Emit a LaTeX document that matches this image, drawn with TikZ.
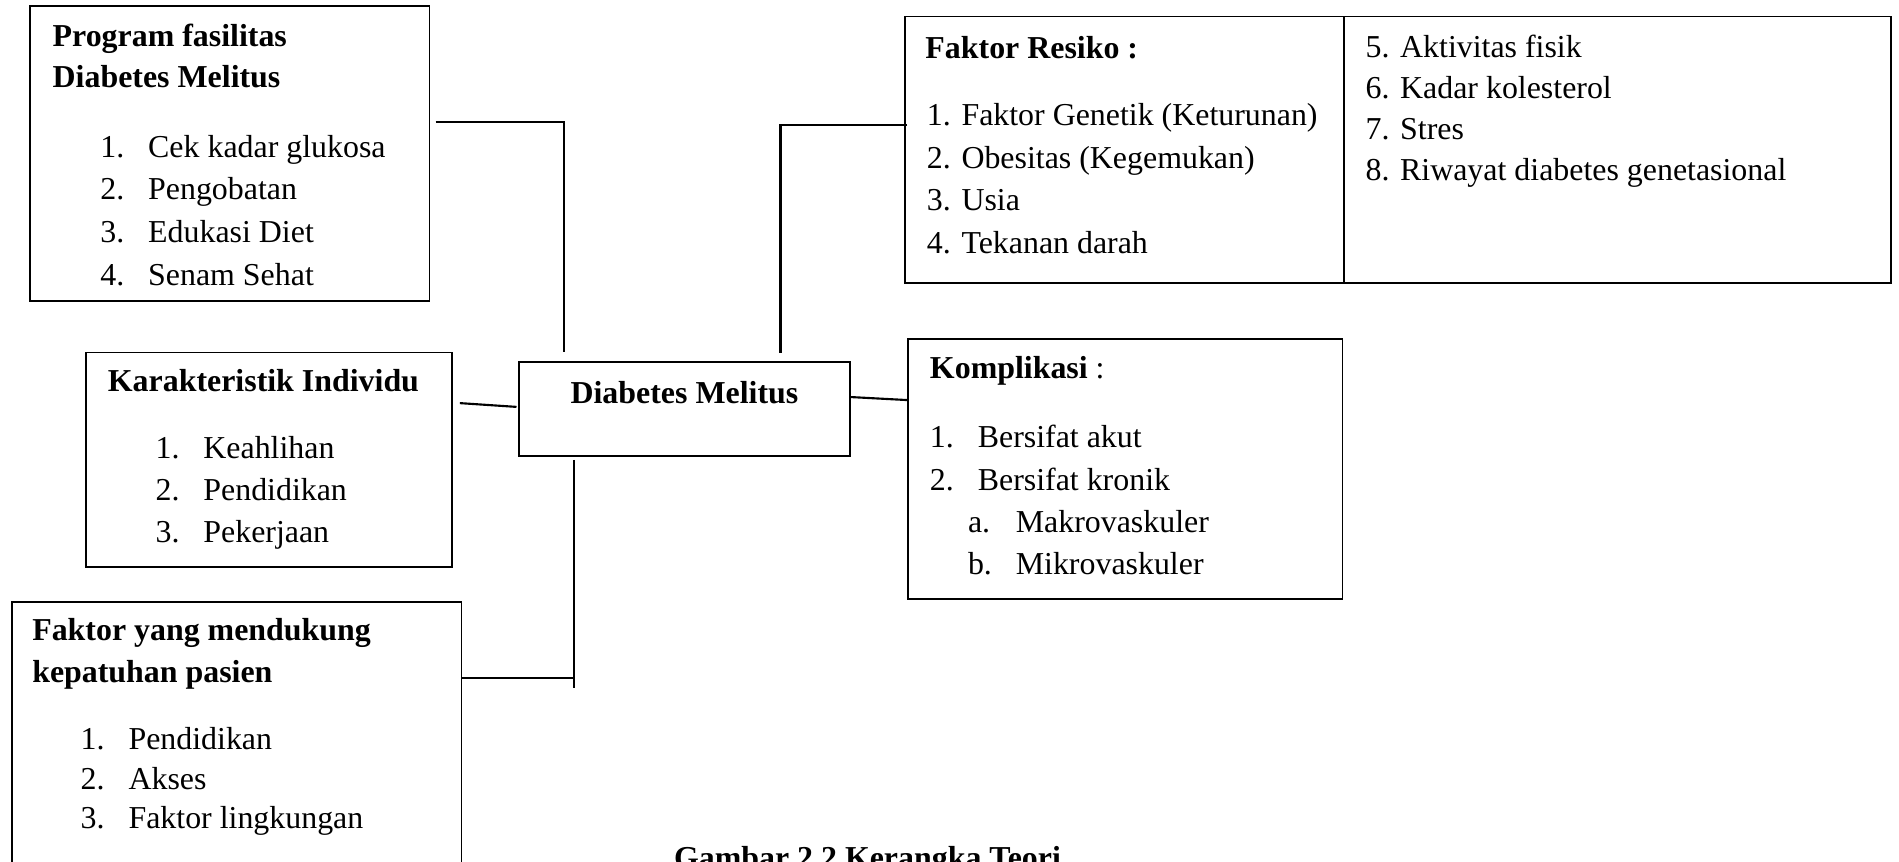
\documentclass[tikz,border=0pt]{standalone}
\usepackage{fontspec}
\setmainfont{Liberation Serif}
\newcommand{\butir}[2]{\makebox[18pt][l]{#1}#2}

\begin{document}
\begin{tikzpicture}[font=\fontsize{12pt}{15pt}\selectfont,
        kotak/.style={rectangle, draw, line width=0.6pt, inner sep=0pt},
        judul/.style={anchor=base west, inner sep=0pt, align=left},
        isi/.style={anchor=base west, inner sep=0pt, align=left},
        garis/.style={line width=0.8pt}]
    \useasboundingbox (0,0) rectangle (25.11,-11.39);

    % kotak-kotak
    \node[kotak, minimum width=5.28cm, minimum height=3.90cm] (prog) at (3.04,-2.03) {};
    \node[kotak, minimum width=4.84cm, minimum height=2.84cm] (indiv) at (3.56,-6.08) {};
    \node[kotak, minimum width=5.94cm, minimum height=3.94cm] (dukung) at (3.13,-9.93) {};
    \node[kotak, minimum width=4.38cm, minimum height=1.24cm] (dm) at (9.05,-5.41) {};
    \node[kotak, minimum width=5.81cm, minimum height=3.52cm] (resikoA) at (14.87,-1.98) {};
    \node[kotak, minimum width=7.23cm, minimum height=3.52cm] (resikoB) at (21.39,-1.98) {};
    \node[kotak, minimum width=5.74cm, minimum height=3.44cm] (kompl) at (14.88,-6.20) {};

    % isi kotak (base = baris terakhir)
    \node[judul, font=\fontsize{12pt}{15.4pt}\selectfont\bfseries] (proghead) at (0.69,-1.16)
        {Program fasilitas\\Diabetes Melitus};
    \node[isi, font=\fontsize{12pt}{16.05pt}\selectfont] (proglist) at (1.32,-3.77)
        {\butir{1.}{Cek kadar glukosa}\\\butir{2.}{Pengobatan}\\\butir{3.}{Edukasi Diet}\\\butir{4.}{Senam Sehat}};

    \node[judul, font=\fontsize{12pt}{15pt}\selectfont\bfseries] (indivhead) at (1.42,-5.18) {Karakteristik Individu};
    \node[isi, font=\fontsize{12pt}{15.8pt}\selectfont] (indivlist) at (2.05,-7.17)
        {\butir{1.}{Keahlihan}\\\butir{2.}{Pendidikan}\\\butir{3.}{Pekerjaan}};

    \node[judul, font=\fontsize{12pt}{15.8pt}\selectfont\bfseries] (dukunghead) at (0.42,-9.02)
        {Faktor yang mendukung\\kepatuhan pasien};
    \node[isi, font=\fontsize{12pt}{14.85pt}\selectfont] (dukunglist) at (1.06,-10.96)
        {\butir{1.}{Pendidikan}\\\butir{2.}{Akses}\\\butir{3.}{Faktor lingkungan}};

    \node[anchor=base, inner sep=0pt, font=\fontsize{12pt}{15pt}\selectfont\bfseries] (dmlabel) at (9.05,-5.33) {Diabetes Melitus};

    \node[judul, font=\fontsize{12pt}{15pt}\selectfont\bfseries] (resikohead) at (12.23,-0.77) {Faktor Resiko :};
    \node[isi, font=\fontsize{12pt}{16pt}\selectfont] (resikolistA) at (12.25,-3.35)
        {1. Faktor Genetik (Keturunan)\\2. Obesitas (Kegemukan)\\3. Usia\\4. Tekanan darah};
    \node[isi, font=\fontsize{12pt}{15.4pt}\selectfont] (resikolistB) at (18.05,-2.38)
        {5. Aktivitas fisik\\6. Kadar kolesterol\\7. Stres\\8. Riwayat diabetes genetasional};

    \node[judul] (komplhead) at (12.29,-5.01) {\textbf{Komplikasi} :};
    \node[isi, font=\fontsize{12pt}{15.9pt}\selectfont] (kompllist) at (12.29,-7.60)
        {\butir{1.}{Bersifat akut}\\\butir{2.}{Bersifat kronik}\\
         \hspace*{14.3pt}\butir{a.}{Makrovaskuler}\\\hspace*{14.3pt}\butir{b.}{Mikrovaskuler}};

    \node[anchor=base, inner sep=0pt, font=\fontsize{12pt}{15pt}\selectfont\bfseries] (caption) at (11.47,-11.48) {Gambar 2.2 Kerangka Teori};

    % garis penghubung
    \coordinate (j1) at (7.46,-1.61);
    \coordinate (j2) at (10.32,-1.65);
    \coordinate (j3) at (7.59,-8.97);
    \draw[garis] ([xshift=0.07cm]prog.east |- j1) -- (j1) -- ([yshift=0.13cm]dm.north -| j1);
    \draw[garis] ([xshift=0.04cm]resikoA.west |- j2) -- (j2) -- ([yshift=0.11cm]dm.north -| j2);
    \draw[garis] ([shift={(0.09,0.08)}]indiv.east |- dm.west) -- ([shift={(-0.02,0.03)}]dm.west);
    \draw[garis] ([yshift=0.16cm]dm.east) -- ([yshift=0.12cm]dm.east -| kompl.west);
    \draw[garis] (dukung.east |- j3) -- (j3);
    \draw[garis] ([yshift=-0.04cm]dm.south -| j3) -- ([yshift=-0.13cm]j3);
\end{tikzpicture}
\end{document}
